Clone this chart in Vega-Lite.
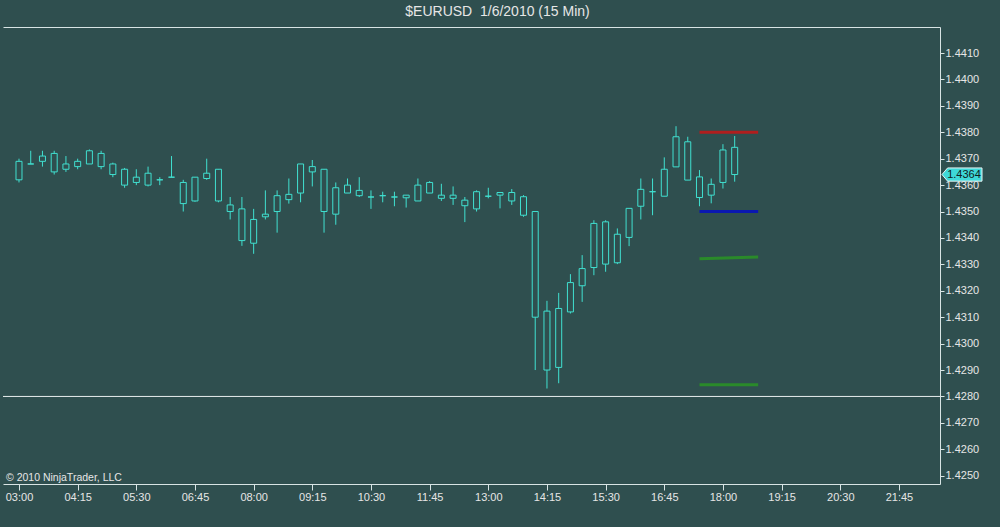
{
  "$schema": "https://vega.github.io/schema/vega-lite/v6.json",
  "autosize": {"type": "none"},
  "width": 937,
  "height": 457,
  "padding": {"left": 3, "top": 27, "right": 60, "bottom": 43},
  "background": "#2F4F4F",
  "title": {
    "text": "$EURUSD\u00a0 1/6/2010 (15 Min)",
    "color": "#E6E6E6",
    "font": "Liberation Sans",
    "fontSize": 14,
    "fontWeight": "normal",
    "anchor": "middle",
    "frame": "group",
    "dx": 26,
    "offset": 8
  },
  "config": {
    "view": {"stroke": null},
    "font": "Liberation Sans",
    "axis": {"grid": false, "labelOverlap": false, "labelFont": "Liberation Sans", "labelFontSize": 11, "labelColor": "#E6E6E6", "domainColor": "#D8E4E4", "tickColor": "#D8E4E4"},
    "axisY": {"labelOverlap": false, "tickCount": 17}
  },
  "datasets": {
    "bars": [
      {"t": "2010-01-06T03:00:00", "o": 1.4362, "h": 1.4370, "l": 1.4361, "c": 1.4369},
      {"t": "2010-01-06T03:15:00", "o": 1.4368, "h": 1.4373, "l": 1.4368, "c": 1.4368},
      {"t": "2010-01-06T03:30:00", "o": 1.4369, "h": 1.4373, "l": 1.4367, "c": 1.4371},
      {"t": "2010-01-06T03:45:00", "o": 1.4372, "h": 1.4373, "l": 1.4364, "c": 1.4365},
      {"t": "2010-01-06T04:00:00", "o": 1.4366, "h": 1.4371, "l": 1.4365, "c": 1.4368},
      {"t": "2010-01-06T04:15:00", "o": 1.4367, "h": 1.4370, "l": 1.4366, "c": 1.4369},
      {"t": "2010-01-06T04:30:00", "o": 1.4368, "h": 1.43735, "l": 1.4368, "c": 1.4373},
      {"t": "2010-01-06T04:45:00", "o": 1.4372, "h": 1.4373, "l": 1.4366, "c": 1.4367},
      {"t": "2010-01-06T05:00:00", "o": 1.4368, "h": 1.43685, "l": 1.4363, "c": 1.4364},
      {"t": "2010-01-06T05:15:00", "o": 1.4366, "h": 1.43665, "l": 1.4359, "c": 1.4360},
      {"t": "2010-01-06T05:30:00", "o": 1.4361, "h": 1.4366, "l": 1.4360, "c": 1.4363},
      {"t": "2010-01-06T05:45:00", "o": 1.4360, "h": 1.4367, "l": 1.43595, "c": 1.43645},
      {"t": "2010-01-06T06:00:00", "o": 1.4362, "h": 1.4363, "l": 1.4360, "c": 1.4362},
      {"t": "2010-01-06T06:15:00", "o": 1.4363, "h": 1.4371, "l": 1.4363, "c": 1.4363},
      {"t": "2010-01-06T06:30:00", "o": 1.4361, "h": 1.4362, "l": 1.4350, "c": 1.4353},
      {"t": "2010-01-06T06:45:00", "o": 1.4354, "h": 1.4363, "l": 1.43537, "c": 1.4363},
      {"t": "2010-01-06T07:00:00", "o": 1.43625, "h": 1.4370, "l": 1.4362, "c": 1.43645},
      {"t": "2010-01-06T07:15:00", "o": 1.4366, "h": 1.4366, "l": 1.43535, "c": 1.4354},
      {"t": "2010-01-06T07:30:00", "o": 1.43525, "h": 1.43555, "l": 1.4347, "c": 1.4350},
      {"t": "2010-01-06T07:45:00", "o": 1.4351, "h": 1.43555, "l": 1.4337, "c": 1.4339},
      {"t": "2010-01-06T08:00:00", "o": 1.4338, "h": 1.4351, "l": 1.4334, "c": 1.4347},
      {"t": "2010-01-06T08:15:00", "o": 1.4348, "h": 1.4358, "l": 1.4347, "c": 1.4349},
      {"t": "2010-01-06T08:30:00", "o": 1.4350, "h": 1.4358, "l": 1.4342, "c": 1.4356},
      {"t": "2010-01-06T08:45:00", "o": 1.43545, "h": 1.43625, "l": 1.4353, "c": 1.43565},
      {"t": "2010-01-06T09:00:00", "o": 1.4357, "h": 1.4368, "l": 1.43535, "c": 1.4368},
      {"t": "2010-01-06T09:15:00", "o": 1.4367, "h": 1.43695, "l": 1.43595, "c": 1.4365},
      {"t": "2010-01-06T09:30:00", "o": 1.4366, "h": 1.4366, "l": 1.4342, "c": 1.4350},
      {"t": "2010-01-06T09:45:00", "o": 1.4349, "h": 1.4361, "l": 1.4345, "c": 1.4359},
      {"t": "2010-01-06T10:00:00", "o": 1.4357, "h": 1.43625, "l": 1.4357, "c": 1.4360},
      {"t": "2010-01-06T10:15:00", "o": 1.4358, "h": 1.4363, "l": 1.43555, "c": 1.4356},
      {"t": "2010-01-06T10:30:00", "o": 1.43555, "h": 1.4358, "l": 1.4351, "c": 1.43555},
      {"t": "2010-01-06T10:45:00", "o": 1.4356, "h": 1.43575, "l": 1.43535, "c": 1.4356},
      {"t": "2010-01-06T11:00:00", "o": 1.43555, "h": 1.43575, "l": 1.4352, "c": 1.43555},
      {"t": "2010-01-06T11:15:00", "o": 1.43562, "h": 1.43562, "l": 1.43515, "c": 1.43552},
      {"t": "2010-01-06T11:30:00", "o": 1.4354, "h": 1.43625, "l": 1.4354, "c": 1.4360},
      {"t": "2010-01-06T11:45:00", "o": 1.4361, "h": 1.43615, "l": 1.4357, "c": 1.4357},
      {"t": "2010-01-06T12:00:00", "o": 1.43562, "h": 1.43605, "l": 1.4354, "c": 1.4355},
      {"t": "2010-01-06T12:15:00", "o": 1.4355, "h": 1.43595, "l": 1.43525, "c": 1.43562},
      {"t": "2010-01-06T12:30:00", "o": 1.43543, "h": 1.43555, "l": 1.4346, "c": 1.43522},
      {"t": "2010-01-06T12:45:00", "o": 1.4351, "h": 1.4358, "l": 1.4350, "c": 1.43575},
      {"t": "2010-01-06T13:00:00", "o": 1.43558, "h": 1.4359, "l": 1.4355, "c": 1.43558},
      {"t": "2010-01-06T13:15:00", "o": 1.43572, "h": 1.43572, "l": 1.43512, "c": 1.43562},
      {"t": "2010-01-06T13:30:00", "o": 1.43572, "h": 1.43585, "l": 1.43525, "c": 1.4354},
      {"t": "2010-01-06T13:45:00", "o": 1.43556, "h": 1.43562, "l": 1.4348, "c": 1.43486},
      {"t": "2010-01-06T14:00:00", "o": 1.4350, "h": 1.4350, "l": 1.4290, "c": 1.4310},
      {"t": "2010-01-06T14:15:00", "o": 1.4290, "h": 1.43162, "l": 1.4283, "c": 1.43123},
      {"t": "2010-01-06T14:30:00", "o": 1.4291, "h": 1.43192, "l": 1.4285, "c": 1.43133},
      {"t": "2010-01-06T14:45:00", "o": 1.4312, "h": 1.43263, "l": 1.43114, "c": 1.43231},
      {"t": "2010-01-06T15:00:00", "o": 1.43219, "h": 1.43335, "l": 1.43158, "c": 1.43284},
      {"t": "2010-01-06T15:15:00", "o": 1.43288, "h": 1.43467, "l": 1.43259, "c": 1.43455},
      {"t": "2010-01-06T15:30:00", "o": 1.43461, "h": 1.43467, "l": 1.43272, "c": 1.43301},
      {"t": "2010-01-06T15:45:00", "o": 1.43306, "h": 1.43436, "l": 1.43301, "c": 1.43414},
      {"t": "2010-01-06T16:00:00", "o": 1.43402, "h": 1.43512, "l": 1.43369, "c": 1.43512},
      {"t": "2010-01-06T16:15:00", "o": 1.4352, "h": 1.43625, "l": 1.4347, "c": 1.43584},
      {"t": "2010-01-06T16:30:00", "o": 1.43575, "h": 1.43625, "l": 1.43486, "c": 1.43575},
      {"t": "2010-01-06T16:45:00", "o": 1.43558, "h": 1.43705, "l": 1.43558, "c": 1.4366},
      {"t": "2010-01-06T17:00:00", "o": 1.43669, "h": 1.43823, "l": 1.43669, "c": 1.43783},
      {"t": "2010-01-06T17:15:00", "o": 1.43764, "h": 1.43783, "l": 1.43619, "c": 1.43619},
      {"t": "2010-01-06T17:30:00", "o": 1.43631, "h": 1.43657, "l": 1.4352, "c": 1.43553},
      {"t": "2010-01-06T17:45:00", "o": 1.43562, "h": 1.43625, "l": 1.43531, "c": 1.43603},
      {"t": "2010-01-06T18:00:00", "o": 1.4361, "h": 1.43755, "l": 1.43587, "c": 1.43733},
      {"t": "2010-01-06T18:15:00", "o": 1.43743, "h": 1.43786, "l": 1.43613, "c": 1.4364}
    ],
    "levels": [
      {"level": "high", "t1": "2010-01-06T17:30:00", "t2": "2010-01-06T18:45:00", "p1": 1.4380, "p2": 1.4380},
      {"level": "low", "t1": "2010-01-06T17:30:00", "t2": "2010-01-06T18:45:00", "p1": 1.4350, "p2": 1.4350},
      {"level": "mid", "t1": "2010-01-06T17:30:00", "t2": "2010-01-06T18:45:00", "p1": 1.43321, "p2": 1.43328},
      {"level": "base", "t1": "2010-01-06T17:30:00", "t2": "2010-01-06T18:45:00", "p1": 1.42844, "p2": 1.42844}
    ],
    "hline": [{"price": 1.4280}],
    "last": [{"price": 1.4364, "label": "1.4364"}],
    "credit": [{"label": "© 2010 NinjaTrader, LLC"}]
  },
  "resolve": {"axis": {"x": "independent"}},
  "layer": [
    {
      "data": {"name": "bars"},
      "mark": {"type": "rule", "color": "#40E0D0", "strokeWidth": 1},
      "encoding": {
        "x": {
          "field": "t", "type": "temporal", "title": null,
          "scale": {"type": "time", "nice": false, "padding": 0, "domain": [
            {"year": 2010, "month": 1, "date": 6, "hours": 2, "minutes": 39, "seconds": 33},
            {"year": 2010, "month": 1, "date": 6, "hours": 22, "minutes": 37, "seconds": 30}
          ]},
          "axis": {
            "orient": "bottom", "format": "%H:%M", "tickSize": 6, "labelPadding": 1, "labelFlush": false, "labelOverlap": false,
            "values": [
              {"year": 2010, "month": 1, "date": 6, "hours": 3, "minutes": 0},
              {"year": 2010, "month": 1, "date": 6, "hours": 4, "minutes": 15},
              {"year": 2010, "month": 1, "date": 6, "hours": 5, "minutes": 30},
              {"year": 2010, "month": 1, "date": 6, "hours": 6, "minutes": 45},
              {"year": 2010, "month": 1, "date": 6, "hours": 8, "minutes": 0},
              {"year": 2010, "month": 1, "date": 6, "hours": 9, "minutes": 15},
              {"year": 2010, "month": 1, "date": 6, "hours": 10, "minutes": 30},
              {"year": 2010, "month": 1, "date": 6, "hours": 11, "minutes": 45},
              {"year": 2010, "month": 1, "date": 6, "hours": 13, "minutes": 0},
              {"year": 2010, "month": 1, "date": 6, "hours": 14, "minutes": 15},
              {"year": 2010, "month": 1, "date": 6, "hours": 15, "minutes": 30},
              {"year": 2010, "month": 1, "date": 6, "hours": 16, "minutes": 45},
              {"year": 2010, "month": 1, "date": 6, "hours": 18, "minutes": 0},
              {"year": 2010, "month": 1, "date": 6, "hours": 19, "minutes": 15},
              {"year": 2010, "month": 1, "date": 6, "hours": 20, "minutes": 30},
              {"year": 2010, "month": 1, "date": 6, "hours": 21, "minutes": 45}
            ]
          }
        },
        "y": {
          "field": "l", "type": "quantitative", "title": null,
          "scale": {"domain": [1.424686, 1.441985], "zero": false, "nice": false},
          "axis": {
            "orient": "right", "format": ".4f", "tickSize": 4, "labelPadding": 1, "title": null, "labelOverlap": false, "labelFlush": false, "tickCount": 17,
            "values": [1.425, 1.426, 1.427, 1.428, 1.429, 1.43, 1.431, 1.432, 1.433, 1.434, 1.435, 1.436, 1.437, 1.438, 1.439, 1.44, 1.441]
          }
        },
        "y2": {"field": "h"}
      }
    },
    {
      "data": {"name": "hline"},
      "mark": {"type": "rule", "color": "#E8EEEE", "strokeWidth": 1},
      "encoding": {
        "y": {"field": "price", "type": "quantitative", "title": null}
      }
    },
    {
      "data": {"name": "bars"},
      "mark": {"type": "bar", "size": 6, "fill": "#2F4F4F", "stroke": "#40E0D0", "strokeWidth": 1},
      "encoding": {
        "x": {"field": "t", "type": "temporal", "title": null,
          "axis": {"orient": "top", "labels": false, "ticks": false, "title": null, "domainColor": "#D8E4E4"}},
        "y": {"field": "o", "type": "quantitative", "title": null},
        "y2": {"field": "c"}
      }
    },
    {
      "data": {"name": "levels"},
      "mark": {"type": "rule"},
      "encoding": {
        "x": {"field": "t1", "type": "temporal", "axis": null},
        "x2": {"field": "t2"},
        "y": {"field": "p1", "type": "quantitative", "title": null},
        "y2": {"field": "p2"},
        "color": {"field": "level", "type": "nominal", "legend": null,
          "scale": {"domain": ["high", "low", "mid", "base"], "range": ["#B01E1E", "#0A18B0", "#2A8A2A", "#2A8A2A"]}},
        "strokeWidth": {"field": "level", "type": "nominal", "legend": null,
          "scale": {"domain": ["high", "low", "mid", "base"], "range": [3, 3, 2, 2]}}
      }
    },
    {
      "data": {"name": "last"},
      "mark": {"type": "point", "shape": "M-1,0L-0.72,-0.33L1,-0.33L1,0.33L-0.72,0.33Z", "size": 1600, "filled": true, "fill": "#3ED8D8", "stroke": "#E8F4F4", "strokeWidth": 1, "opacity": 1, "xOffset": 22},
      "encoding": {
        "x": {"value": "width"},
        "y": {"field": "price", "type": "quantitative", "title": null}
      }
    },
    {
      "data": {"name": "last"},
      "mark": {"type": "text", "font": "Liberation Sans", "fontSize": 11, "color": "#102020", "align": "center", "baseline": "middle", "xOffset": 24},
      "encoding": {
        "x": {"value": "width"},
        "y": {"field": "price", "type": "quantitative", "title": null},
        "text": {"field": "label"}
      }
    },
    {
      "data": {"name": "credit"},
      "mark": {"type": "text", "font": "Liberation Sans", "fontSize": 10.5, "color": "#E6E6E6", "align": "left", "baseline": "alphabetic", "dx": 3, "dy": -3},
      "encoding": {
        "x": {"value": 0},
        "y": {"value": "height"},
        "text": {"field": "label"}
      }
    }
  ]
}
